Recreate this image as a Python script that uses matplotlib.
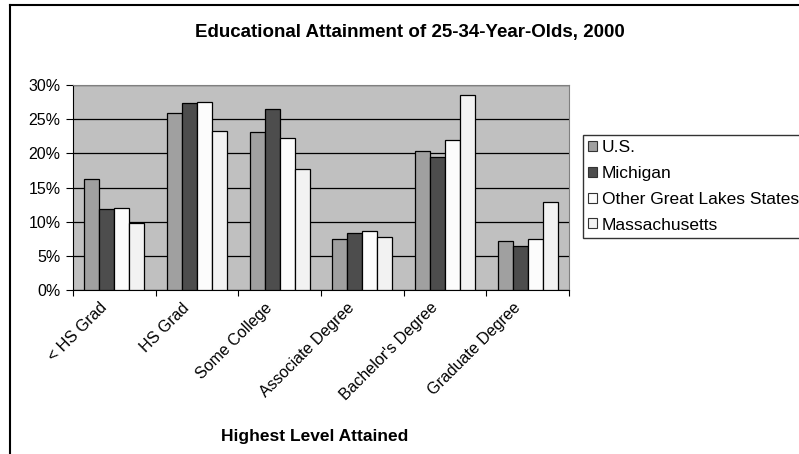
import numpy as np
import matplotlib
matplotlib.use("Agg")
import matplotlib.pyplot as plt
import matplotlib.transforms as mtransforms
from matplotlib.lines import Line2D
from matplotlib.ticker import PercentFormatter

plt.rcParams["font.family"] = ["Liberation Sans", "DejaVu Sans"]

# ── Data (percent of 25-34-year-olds) ─────────────────────────────────────
categories = ["< HS Grad", "HS Grad", "Some College", "Associate Degree",
              "Bachelor's Degree", "Graduate Degree"]
us       = [16.2, 25.9, 23.1, 7.4, 20.4, 7.2]
michigan = [11.8, 27.3, 26.5, 8.3, 19.5, 6.5]
other_gl = [12.0, 27.5, 22.3, 8.7, 22.0, 7.4]
mass     = [9.8, 23.3, 17.7, 7.8, 28.6, 12.9]

series = [("U.S.", us, "#a0a0a0"),
          ("Michigan", michigan, "#4d4d4d"),
          ("Other Great Lakes States", other_gl, "#fcfcfc"),
          ("Massachusetts", mass, "#f2f2f2")]

W, H = 799, 454
fig = plt.figure(figsize=(W / 100, H / 100), dpi=100)
ax = fig.add_axes([73 / W, 1 - 290 / H, (569 - 73) / W, 205 / H])
ax.set_facecolor("#c0c0c0")

x = np.arange(len(categories))
bw = 1 / 5.5
for i, (name, vals, col) in enumerate(series):
    ax.bar(x + (i - 1.5) * bw, vals, width=bw, color=col,
           edgecolor="black", linewidth=0.9, label=name, zorder=3)

ax.set_xlim(-0.5, len(categories) - 0.5)
ax.set_ylim(0, 30)
ax.set_yticks(np.arange(0, 31, 5))
ax.yaxis.set_major_formatter(PercentFormatter(decimals=0))
ax.grid(axis="y", color="black", linewidth=0.9, zorder=1)
ax.set_axisbelow(True)

# category boundaries as ticks, labels at centers
ax.set_xticks(np.arange(-0.5, len(categories)))
ax.set_xticklabels([])
ax.set_xticks(x, minor=True)
ax.set_xticklabels(categories, minor=True, rotation=45, ha="right",
                   va="center", rotation_mode="anchor", fontsize=11.5)
ax.tick_params(axis="x", which="minor", length=0, pad=11)
ax.tick_params(axis="x", which="major", length=4, direction="out", color="black")
ax.tick_params(axis="y", length=5, direction="out", labelsize=11.5, pad=4)

shift = mtransforms.ScaledTranslation(-10 / 100, 0, fig.dpi_scale_trans)
for lab in ax.get_xticklabels(minor=True):
    lab.set_transform(lab.get_transform() + shift)

for s in ("top", "right"):
    ax.spines[s].set_color("#808080")
for s in ("left", "bottom"):
    ax.spines[s].set_color("black")

fig.text(410 / W, 1 - 33 / H, "Educational Attainment of 25-34-Year-Olds, 2000",
         ha="center", va="center", fontsize=13.5, fontweight="bold")
fig.text(315 / W, 1 - 436 / H, "Highest Level Attained",
         ha="center", va="center", fontsize=12.5, fontweight="bold")

leg = fig.legend(loc="upper left", bbox_to_anchor=(583 / W, 1 - 135 / H),
                 fontsize=12.5, frameon=True, fancybox=False, handlelength=0.5,
                 handleheight=0.5, handletextpad=0.3, labelspacing=0.62,
                 borderpad=0.3, borderaxespad=0)
leg.get_frame().set_edgecolor("black")
leg.get_frame().set_linewidth(1.0)
for h in leg.legend_handles:
    h.set_edgecolor("#333333")
    h.set_linewidth(0.8)

# outer chart frame (top and left only visible)
fig.add_artist(Line2D([10 / W, 1], [1 - 5 / H, 1 - 5 / H], color="black", lw=1.5))
fig.add_artist(Line2D([10 / W, 10 / W], [0, 1 - 5 / H], color="black", lw=1.5))

fig.savefig("out.png", dpi=100)
